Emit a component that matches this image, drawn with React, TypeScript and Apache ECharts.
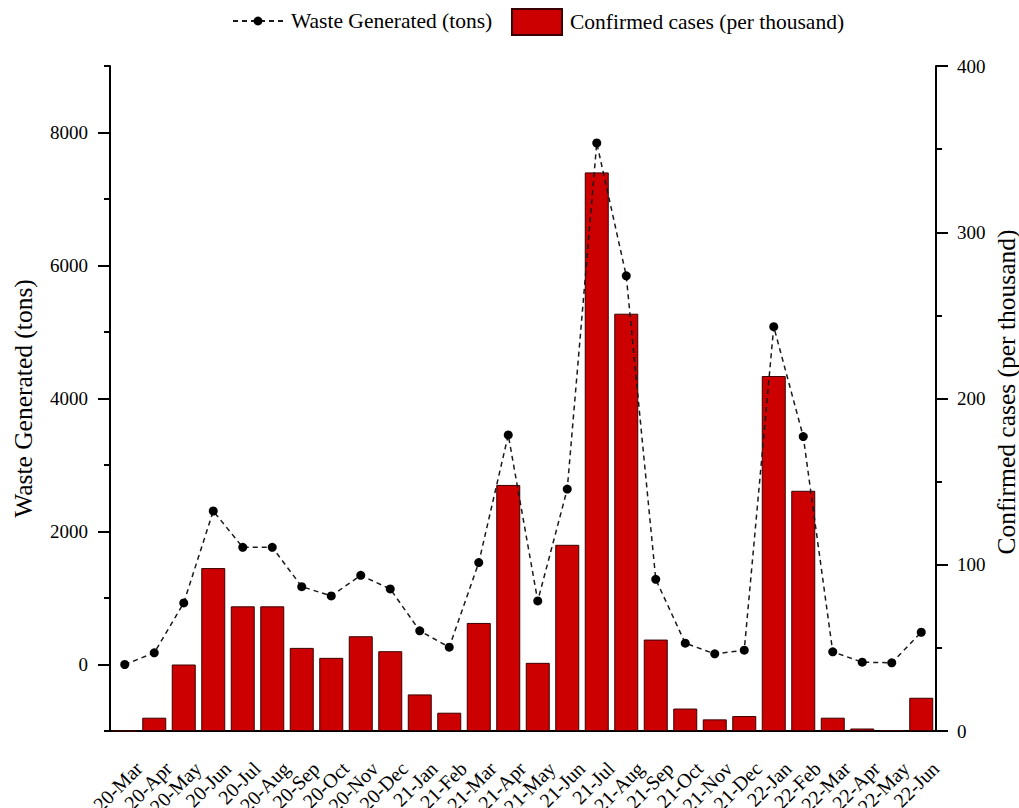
import React, { useEffect, useRef } from 'react';
import * as echarts from 'echarts';

const categories = [
  '20-Mar', '20-Apr', '20-May', '20-Jun', '20-Jul', '20-Aug', '20-Sep', '20-Oct', '20-Nov', '20-Dec',
  '21-Jan', '21-Feb', '21-Mar', '21-Apr', '21-May', '21-Jun', '21-Jul', '21-Aug', '21-Sep', '21-Oct',
  '21-Nov', '21-Dec', '22-Jan', '22-Feb', '22-Mar', '22-Apr', '22-May', '22-Jun',
];

const wasteTons = [
  0, 175, 926, 2308, 1762, 1762, 1171, 1031, 1341, 1136,
  506, 260, 1532, 3453, 956, 2638, 7842, 5845, 1281, 320,
  160, 215, 5080, 3428, 190, 35, 25, 485,
];

const casesPerThousand = [
  0, 8, 40, 98, 75, 75, 50, 44, 57, 48,
  22, 11, 65, 148, 41, 112, 336, 251, 55, 13.5,
  7, 9, 213.5, 144.5, 8, 1.5, 0.6, 20,
];

const leftMajorTicks = [0, 2000, 4000, 6000, 8000];

const rightAxisTitle = 'Confirmed cases (per thousand)';

const FONT = "'Liberation Serif', 'Times New Roman', serif";

export default function App() {
  const ref = useRef<HTMLDivElement>(null);
  useEffect(() => {
    const chart = echarts.init(ref.current as HTMLDivElement, null, { renderer: 'svg' });
    const lineStyle = { color: '#000', width: 2 };
    const labelStyle = { fontFamily: FONT, fontSize: 19, color: '#000' };
    const plain = (v: number) => String(v);
    chart.setOption({
      animation: false,
      backgroundColor: '#fff',
      textStyle: { fontFamily: FONT, color: '#000' },
      legend: [
        {
          data: ['Waste Generated (tons)'],
          left: 227,
          top: 5,
          itemWidth: 50,
          itemHeight: 11,
          textStyle: { fontFamily: FONT, fontSize: 21.5, color: '#000', padding: [0, 0, 0, 3] },
        },
        {
          data: ['Confirmed cases (per thousand)'],
          left: 506,
          top: 3,
          itemWidth: 50,
          itemHeight: 26,
          icon: 'rect',
          textStyle: { fontFamily: FONT, fontSize: 21.5, color: '#000', padding: [0, 0, 0, 3] },
        },
      ],
      graphic: [
        {
          type: 'text',
          x: 1006,
          y: 392,
          rotation: Math.PI / 2,
          style: {
            text: rightAxisTitle,
            font: `25.5px ${FONT}`,
            fill: '#000',
            textAlign: 'center',
            textVerticalAlign: 'middle',
          },
        },
      ],
      grid: {
        left: 110,
        right: 83,
        top: 66,
        bottom: 77,
        containLabel: false,
        outerBoundsMode: 'none',
      },
      xAxis: [
        {
          type: 'category',
          data: categories,
          position: 'bottom',
          boundaryGap: true,
          axisLine: { onZero: false, lineStyle },
          axisTick: { alignWithLabel: true, interval: 0, length: 12, lineStyle },
          axisLabel: {
            ...labelStyle,
            fontSize: 20,
            rotate: 45,
            interval: 0,
            margin: 20,
            verticalAlign: 'top',
            lineHeight: 40,
            hideOverlap: false,
          },
          splitLine: { show: false },
        },
        {
          type: 'category',
          data: categories,
          position: 'bottom',
          boundaryGap: true,
          axisLine: { show: false, onZero: false },
          axisTick: { alignWithLabel: false, interval: 0, length: 6, lineStyle },
          axisLabel: { show: false },
          splitLine: { show: false },
        },
      ],
      yAxis: [
        {
          type: 'value',
          position: 'left',
          min: -1000,
          max: 9000,
          interval: 1000,
          name: 'Waste Generated (tons)',
          nameLocation: 'middle',
          nameRotate: 90,
          nameGap: 74,
          nameTextStyle: { fontFamily: FONT, fontSize: 25.5, color: '#000' },
          axisLine: { show: true, onZero: false, lineStyle },
          axisTick: { show: true, length: 12, customValues: leftMajorTicks, lineStyle },
          axisLabel: { ...labelStyle, margin: 22, customValues: leftMajorTicks, formatter: plain },
          splitLine: { show: false },
        },
        {
          type: 'value',
          position: 'right',
          min: 0,
          max: 400,
          interval: 100,
          axisLine: { show: true, onZero: false, lineStyle },
          axisTick: { show: true, length: 12, lineStyle },
          minorTick: { show: true, splitNumber: 2, length: 6, lineStyle },
          axisLabel: { ...labelStyle, margin: 21, formatter: plain },
          splitLine: { show: false },
          minorSplitLine: { show: false },
        },
        {
          type: 'value',
          position: 'left',
          min: -1000,
          max: 9000,
          interval: 1000,
          axisLine: { show: false, onZero: false },
          axisTick: { show: true, length: 6, lineStyle },
          axisLabel: { show: false },
          splitLine: { show: false },
        },
      ],
      series: [
        {
          name: 'Confirmed cases (per thousand)',
          type: 'bar',
          xAxisIndex: 0,
          yAxisIndex: 1,
          data: casesPerThousand,
          barWidth: 24,
          itemStyle: { color: '#cc0000', borderColor: '#3a0000', borderWidth: 1 },
        },
        {
          name: 'Waste Generated (tons)',
          type: 'line',
          xAxisIndex: 0,
          yAxisIndex: 0,
          data: wasteTons,
          symbol: 'circle',
          symbolSize: 9,
          lineStyle: { type: [5, 4], width: 1.5, color: '#1a1a1a' },
          itemStyle: { color: '#000' },
        },
      ],
    });
    return () => chart.dispose();
  }, []);
  return (
    <div
      ref={ref}
      style={{ position: 'fixed', left: 0, top: 0, width: 1019, height: 808, background: '#fff' }}
    />
  );
}
